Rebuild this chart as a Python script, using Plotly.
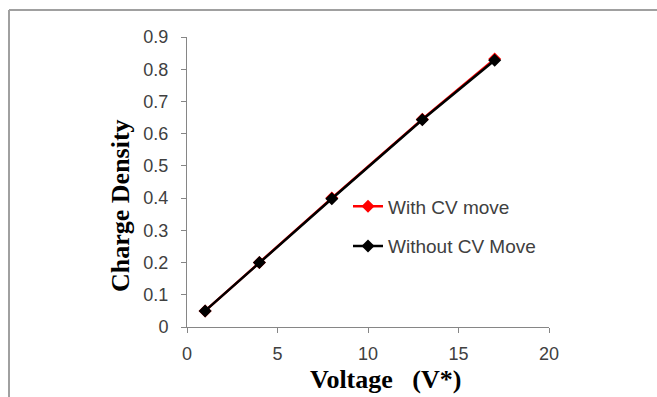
import plotly.graph_objects as go

voltage = [1, 4, 8, 13, 17]
with_cv_move = [0.05, 0.2, 0.4, 0.645, 0.832]
without_cv_move = [0.05, 0.2, 0.398, 0.643, 0.828]

x_ticks = [0, 5, 10, 15, 20]
y_ticks = [0, 0.1, 0.2, 0.3, 0.4, 0.5, 0.6, 0.7, 0.8, 0.9]
y_tick_labels = ["0", "0.1", "0.2", "0.3", "0.4", "0.5", "0.6", "0.7", "0.8", "0.9"]

x_title = "<b>Voltage   (V*)</b>"
y_title = "<b>Charge Density</b>"

fig = go.Figure()
fig.add_trace(go.Scatter(
    x=voltage, y=with_cv_move, name="With CV move", mode="lines+markers",
    legendgroup="a",
    line=dict(color="#ff0000", width=2.5),
    marker=dict(symbol="diamond", size=10, color="#ff0000"),
))
fig.add_trace(go.Scatter(
    x=voltage, y=without_cv_move, name="Without CV Move", mode="lines+markers",
    legendgroup="b",
    line=dict(color="#000000", width=2.5),
    marker=dict(symbol="diamond", size=10, color="#000000"),
))

axis_font = dict(family="Liberation Sans, Arial, sans-serif", size=18, color="#404040")
title_font = dict(family="Liberation Serif, Times New Roman, serif", size=26, color="#000000")

PL, PR, PT, PB = 187, 549, 37, 327
W, H = 657, 397

def px_x(p):
    return (p - PL) / (PR - PL)

def px_y(p):
    return (PB - p) / (PB - PT)

fig.update_layout(
    width=W, height=H,
    margin=dict(l=PL, r=W - PR, t=PT, b=H - PB),
    paper_bgcolor="white", plot_bgcolor="white",
    showlegend=True,
    legend=dict(
        x=px_x(348), y=px_y(226.5), xanchor="left", yanchor="middle",
        font=dict(family="Liberation Sans, Arial, sans-serif", size=19, color="#404040"),
        bgcolor="rgba(0,0,0,0)", itemwidth=30, tracegroupgap=12,
    ),
    xaxis=dict(
        range=[0, 20], tickvals=x_ticks, ticks="outside", ticklen=5, tickcolor="#868686",
        showline=True, linecolor="#868686", linewidth=1, showgrid=False, zeroline=False,
        tickfont=axis_font, ticklabelstandoff=5,
    ),
    yaxis=dict(
        range=[0, 0.9], tickvals=y_ticks, ticktext=y_tick_labels, ticks="outside", ticklen=5,
        tickcolor="#868686", showline=True, linecolor="#868686", linewidth=1, showgrid=False,
        zeroline=False, tickfont=axis_font, ticklabelstandoff=9,
    ),
)

fig.add_annotation(text=x_title, xref="paper", yref="paper", x=px_x(385), y=px_y(379),
                   xanchor="center", yanchor="middle", showarrow=False, font=title_font)
fig.add_annotation(text=y_title, xref="paper", yref="paper", x=px_x(121), y=px_y(206),
                   xanchor="center", yanchor="middle", showarrow=False, font=title_font,
                   textangle=-90)

# outer frame lines (top and left) as seen in the reference
fig.add_shape(type="line", xref="paper", yref="paper",
              x0=px_x(9), x1=px_x(W), y0=px_y(10), y1=px_y(10),
              line=dict(color="#a0a0a0", width=2))
fig.add_shape(type="line", xref="paper", yref="paper",
              x0=px_x(9), x1=px_x(9), y0=px_y(10), y1=px_y(H),
              line=dict(color="#a0a0a0", width=2))

fig.write_html("out.html")
